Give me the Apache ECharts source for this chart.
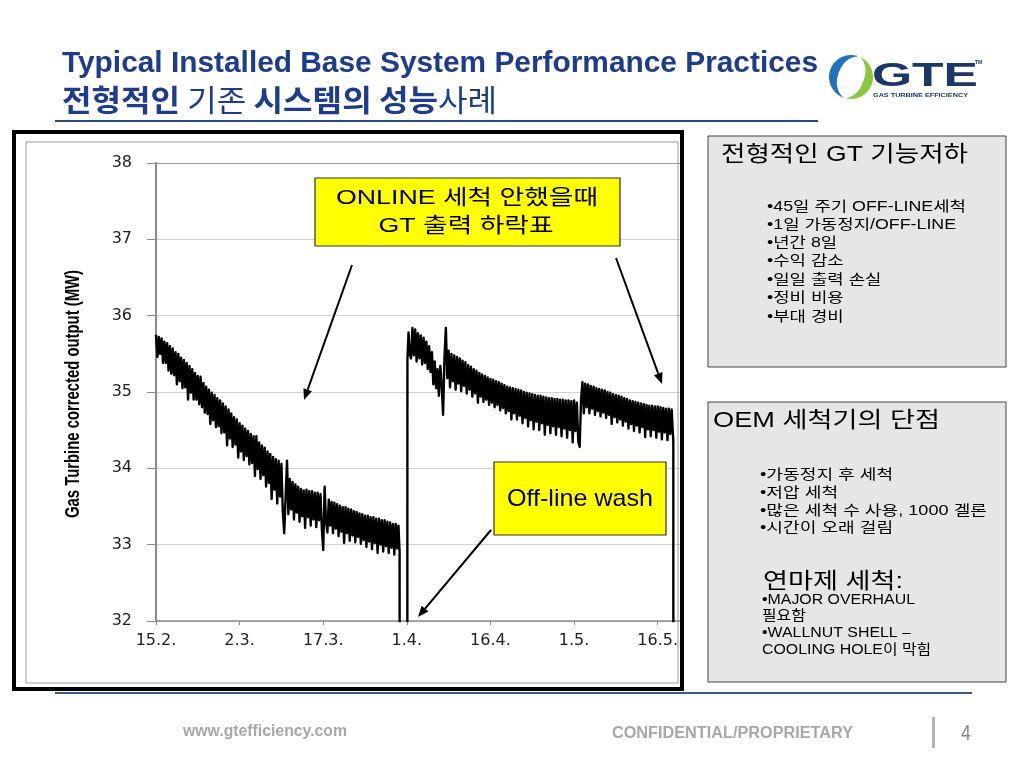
<!DOCTYPE html>
<html><head><meta charset="utf-8">
<script src="https://cdn.jsdelivr.net/npm/echarts@6/dist/echarts.min.js"></script>
<style>html,body{margin:0;padding:0;background:#fff}#c{width:1024px;height:768px}</style>
</head><body><div id="c"></div>
<script>
// ---------- data ----------
const xTickDays = [0, 15, 30, 45, 60, 75, 90];            // days after 15 Feb
const xTickLabels = ['15.2.', '2.3.', '17.3.', '1.4.', '16.4.', '1.5.', '16.5.'];
const yTicks = [32, 33, 34, 35, 36, 37, 38];
const yAxisTitle = 'Gas Turbine corrected output (MW)';

// [day, MW]  period before the off-line wash (online output decline)
const beforeWash = [
 [0,35.75],[0.25,35.46],[0.5,35.72],[0.75,35.50],[1,35.70],[1.25,35.38],[1.5,35.66],[1.75,35.38],
 [2,35.64],[2.25,35.28],[2.5,35.60],[2.75,35.24],[3,35.57],[3.25,35.22],[3.5,35.52],[3.75,35.10],
 [4,35.50],[4.25,35.14],[4.5,35.45],[4.75,35.05],[5,35.42],[5.25,35.06],[5.5,35.38],[5.75,34.90],
 [6,35.34],[6.25,34.99],[6.5,35.30],[6.75,34.90],[7,35.25],[7.25,34.90],[7.5,35.21],[7.75,34.84],
 [8,35.20],[8.25,34.80],[8.5,35.12],[8.75,34.73],[9,35.07],[9.25,34.71],[9.5,35.03],[9.75,34.58],
 [10,34.99],[10.25,34.63],[10.5,34.96],[10.75,34.54],[11,34.92],[11.25,34.55],[11.5,34.89],[11.75,34.46],
 [12,34.85],[12.25,34.47],[12.5,34.81],[12.75,34.30],[13,34.77],[13.25,34.39],[13.5,34.72],[13.75,34.28],
 [14,34.67],[14.25,34.31],[14.5,34.64],[14.75,34.14],[15,34.59],[15.25,34.22],[15.5,34.56],[15.75,34.11],
 [16,34.52],[16.25,34.16],[16.5,34.49],[16.75,34.05],[17,34.45],[17.25,34.07],[17.5,34.42],[17.75,33.90],
 [18,34.42],[18.25,33.99],[18.5,34.34],[18.75,33.86],[19,34.30],[19.25,33.91],[19.5,34.27],[19.75,33.76],
 [20,34.22],[20.25,33.81],[20.5,34.19],[20.75,33.60],[21,34.15],[21.25,33.72],[21.5,34.12],[21.75,33.54],
 [22,34.10],[22.25,33.63],[22.5,34.06],[22.75,33.43],[23,33.15],[23.25,33.62],[23.5,34.10],[23.75,33.40],
 [24,33.86],[24.25,33.46],[24.5,33.82],[24.75,33.33],[25,33.79],[25.25,33.42],[25.5,33.76],[25.75,33.30],
 [26,33.73],[26.25,33.37],[26.5,33.71],[26.75,33.22],[27,33.72],[27.25,33.36],[27.5,33.70],[27.75,33.25],
 [28,33.70],[28.25,33.33],[28.5,33.68],[28.75,33.23],[29,33.68],[29.25,33.32],[29.5,33.66],[29.75,33.21],
 [30,32.93],[30.25,33.76],[30.5,33.30],[30.75,33.16],[31,33.59],[31.25,33.25],[31.5,33.56],[31.75,33.15],
 [32,33.55],[32.25,33.21],[32.5,33.53],[32.75,33.11],[33,33.51],[33.25,33.17],[33.5,33.49],[33.75,33.02],
 [34,33.49],[34.25,33.15],[34.5,33.47],[34.75,33.05],[35,33.46],[35.25,33.12],[35.5,33.44],[35.75,33.03],
 [36,33.43],[36.25,33.10],[36.5,33.41],[36.75,33.01],[37,33.40],[37.25,33.06],[37.5,33.38],[37.75,32.97],
 [38,33.38],[38.25,33.04],[38.5,33.36],[38.75,32.94],[39,33.36],[39.25,33.02],[39.5,33.34],[39.75,32.89],
 [40,33.34],[40.25,33.00],[40.5,33.32],[40.75,32.91],[41,33.32],[41.25,32.98],[41.5,33.30],[41.75,32.89],
 [42,33.29],[42.25,32.96],[42.5,33.27],[42.75,32.87],[43,33.27],[43.25,32.95],[43.5,33.25],[43.7,32.90]
];
// unit offline for the wash (output 0, below the axis)
const washShutdown = [[43.8,0],[45.0,0]];
// [day, MW]  period after the off-line wash
const afterWash = [
 [45.1,35.42],[45.3,35.78],[45.5,35.50],[45.75,35.44],[46,35.84],[46.25,35.48],[46.5,35.82],[46.75,35.40],
 [47,35.77],[47.25,35.44],[47.5,35.74],[47.75,35.36],[48,35.71],[48.25,35.38],[48.5,35.66],[48.75,35.30],
 [49,35.60],[49.25,35.26],[49.5,35.52],[49.75,35.10],[50,35.40],[50.25,35.05],[50.5,35.30],[50.75,34.95],
 [51,35.34],[51.25,35.10],[51.5,34.70],[51.75,35.45],[52,35.84],[52.25,35.18],[52.5,35.54],[52.75,35.06],
 [53,35.50],[53.25,35.14],[53.5,35.48],[53.75,35.03],[54,35.46],[54.25,35.11],[54.5,35.44],[54.75,35.01],
 [55,35.41],[55.25,35.08],[55.5,35.39],[55.75,34.98],[56,35.35],[56.25,35.03],[56.5,35.33],[56.75,34.94],
 [57,35.30],[57.25,34.98],[57.5,35.28],[57.75,34.86],[58,35.25],[58.25,34.94],[58.5,35.23],[58.75,34.87],
 [59,35.21],[59.25,34.90],[59.5,35.19],[59.75,34.83],[60,35.17],[60.25,34.86],[60.5,35.16],[60.75,34.80],
 [61,35.14],[61.25,34.83],[61.5,35.13],[61.75,34.76],[62,35.11],[62.25,34.79],[62.5,35.09],[62.75,34.72],
 [63,35.07],[63.25,34.75],[63.5,35.06],[63.75,34.64],[64,35.05],[64.25,34.72],[64.5,35.04],[64.75,34.64],
 [65,35.03],[65.25,34.69],[65.5,35.02],[65.75,34.59],[66,35.00],[66.25,34.66],[66.5,34.99],[66.75,34.55],
 [67,34.98],[67.25,34.63],[67.5,34.97],[67.75,34.51],[68,34.96],[68.25,34.61],[68.5,34.95],[68.75,34.50],
 [69,34.95],[69.25,34.59],[69.5,34.94],[69.75,34.44],[70,34.93],[70.25,34.57],[70.5,34.92],[70.75,34.46],
 [71,34.92],[71.25,34.55],[71.5,34.91],[71.75,34.44],[72,34.91],[72.25,34.54],[72.5,34.90],[72.75,34.42],
 [73,34.90],[73.25,34.52],[73.5,34.89],[73.75,34.40],[74,34.89],[74.25,34.50],[74.5,34.88],[74.75,34.34],
 [75,34.89],[75.25,34.49],[75.5,34.86],[75.75,34.35],[76,34.28],[76.25,34.90],[76.5,35.13],[76.75,34.72],
 [77,35.11],[77.25,34.80],[77.5,35.10],[77.75,34.72],[78,35.08],[78.25,34.78],[78.5,35.07],[78.75,34.70],
 [79,35.05],[79.25,34.75],[79.5,35.04],[79.75,34.68],[80,35.03],[80.25,34.73],[80.5,35.02],[80.75,34.66],
 [81,35.00],[81.25,34.70],[81.5,34.99],[81.75,34.58],[82,34.97],[82.25,34.67],[82.5,34.96],[82.75,34.60],
 [83,34.95],[83.25,34.64],[83.5,34.94],[83.75,34.56],[84,34.92],[84.25,34.61],[84.5,34.91],[84.75,34.52],
 [85,34.89],[85.25,34.58],[85.5,34.88],[85.75,34.49],[86,34.87],[86.25,34.56],[86.5,34.86],[86.75,34.47],
 [87,34.85],[87.25,34.54],[87.5,34.84],[87.75,34.41],[88,34.83],[88.25,34.51],[88.5,34.82],[88.75,34.42],
 [89,34.82],[89.25,34.50],[89.5,34.81],[89.75,34.40],[90,34.81],[90.25,34.48],[90.5,34.80],[90.75,34.38],
 [91,34.79],[91.25,34.47],[91.5,34.78],[91.75,34.37],[92,34.78],[92.25,34.45],[92.5,34.77],[92.8,34.35]
];
const endShutdown = [[92.9,0]];

// ---------- text helpers ----------
const mctx = document.createElement('canvas').getContext('2d');
function tw(text, font){ mctx.font = font; return mctx.measureText(text).width; }
function fit(text, font, w){ return w / tw(text, font); }
function txt(text, x, y, font, fill, sx, align, extra){
  return Object.assign({type:'text', x:x, y:y, scaleX:sx||1, z:50, silent:true,
    style:{text:text, x:0, y:0, font:font, fill:fill||'#000', textAlign:align||'left',
      textVerticalAlign:'middle', verticalAlign:'middle'}}, extra||{});
}
function arrow(x1,y1,x2,y2){
  const a = Math.atan2(y2-y1, x2-x1), L = 11, W = 4.5;
  const bx = x2 - L*Math.cos(a), by = y2 - L*Math.sin(a);
  return [
    {type:'line', z:40, silent:true, shape:{x1:x1,y1:y1,x2:bx,y2:by}, style:{stroke:'#000', lineWidth:2}},
    {type:'polygon', z:40, silent:true, shape:{points:[[x2,y2],[bx - W*Math.sin(a), by + W*Math.cos(a)],[bx + W*Math.sin(a), by - W*Math.cos(a)]]}, style:{fill:'#000'}}
  ];
}
function crescent(cx, cy, r, a0, a1, tmax, color){
  const pts = [], n = 40;
  for (let i=0;i<=n;i++){ const t=a0+(a1-a0)*i/n, rad=t*Math.PI/180; pts.push([cx+r*Math.cos(rad), cy-r*Math.sin(rad)]); }
  for (let i=n;i>=0;i--){ const t=a0+(a1-a0)*i/n, rad=t*Math.PI/180; const rr = r - tmax*Math.sin(Math.PI*i/n);
    pts.push([cx+rr*Math.cos(rad), cy-rr*Math.sin(rad)]); }
  return {type:'polygon', z:30, silent:true, shape:{points:pts}, style:{fill:color}};
}

const F = '"Liberation Sans", Arial, "Noto Sans CJK KR", sans-serif';
const KF = '"Noto Sans CJK KR", "Liberation Sans", sans-serif';
const NAVY = '#1d3c8f';

const g = [];
// ---- title ----
const t1 = 'Typical Installed Base System Performance Practices';
const t1f = 'bold 30px ' + F;
g.push(txt(t1, 62, 64, t1f, NAVY, fit(t1, t1f, 756)));
const t2parts = [['전형적인 ', 'bold'], ['기존 ', 'normal'], ['시스템의 성능', 'bold'], ['사례', 'normal']];
let t2w = 0; t2parts.forEach(p => { p.f = p[1] + ' 30px ' + KF; p.w = tw(p[0], p.f); t2w += p.w; });
const t2s = 435 / t2w; let t2x = 62;
t2parts.forEach(p => { g.push(txt(p[0], t2x, 100, p.f, NAVY, t2s)); t2x += p.w * t2s; });
g.push({type:'line', z:30, silent:true, shape:{x1:55,y1:121,x2:818,y2:121}, style:{stroke:'#2b4a86', lineWidth:2}});

// ---- logo ----
g.push(crescent(851, 77, 22, 70, 250, 9, '#1f73ba'));
g.push(crescent(851, 77, 22, 255, 425, 9, '#8cc63f'));
const gteF = 'bold 34px "Liberation Sans", Arial, sans-serif';
g.push(txt('GTE', 872, 77, gteF, '#1b3668', fit('GTE', gteF, 106)));
g.push(txt('TM', 975, 63, 'bold 5px "Liberation Sans"', '#1b3668', 1));
const subF = 'bold 6px "Liberation Sans", Arial, sans-serif';
g.push(txt('GAS TURBINE EFFICIENCY', 873, 95, subF, '#1b3668', fit('GAS TURBINE EFFICIENCY', subF, 95)));

// ---- chart frame ----
g.push({type:'rect', z:60, silent:true, shape:{x:14,y:132,width:668,height:557}, style:{fill:'none', stroke:'#000', lineWidth:4}});
g.push({type:'rect', z:59, silent:true, shape:{x:26,y:142,width:652,height:541}, style:{fill:'none', stroke:'#9a9a9a', lineWidth:1}});
// y axis title
const yaF = 'bold 21px "Liberation Sans", Arial, sans-serif';
g.push(txt(yAxisTitle, 73, 394, yaF, '#000', fit(yAxisTitle, yaF, 248), 'center', {rotation: Math.PI/2}));

// ---- annotation boxes ----
g.push({type:'rect', z:35, silent:true, shape:{x:315,y:178,width:305,height:68}, style:{fill:'#ffff00', stroke:'#333', lineWidth:1.2}});
const a1 = 'ONLINE 세척 안했을때', a2 = 'GT 출력 하락표', aF = '21px ' + F;
const as = fit(a1, aF, 262);
g.push(txt(a1, 467, 198, aF, '#000', as, 'center'));
g.push(txt(a2, 466, 226, aF, '#000', as, 'center'));
g.push({type:'rect', z:35, silent:true, shape:{x:494,y:462,width:172,height:73}, style:{fill:'#ffff00', stroke:'#333', lineWidth:1.2}});
const owF = '24px ' + F;
g.push(txt('Off-line wash', 580, 499, owF, '#000', fit('Off-line wash', owF, 146), 'center'));
arrow(352, 265, 304, 400).forEach(e => g.push(e));
arrow(616, 258, 662, 384).forEach(e => g.push(e));
arrow(491, 530, 418, 617).forEach(e => g.push(e));

// ---- right panels ----
g.push({type:'rect', z:30, silent:true, shape:{x:708,y:136,width:298,height:231}, style:{fill:'#e6e6e6', stroke:'#444', lineWidth:1}});
const p1t = '전형적인 GT 기능저하', p1tF = '22px ' + F;
g.push(txt(p1t, 721, 155, p1tF, '#000', fit(p1t, p1tF, 247)));
const p1lines = ['•45일 주기 OFF-LINE세척', '•1일 가동정지/OFF-LINE', '•년간 8일', '•수익 감소', '•일일 출력 손실', '•정비 비용', '•부대 경비'];
const p1Y = [207, 225, 243, 261, 280, 298, 317];
const bF = '14px ' + F; const p1s = fit(p1lines[0], bF, 199);
p1lines.forEach((s, i) => g.push(txt(s, 767, p1Y[i], bF, '#000', p1s)));

g.push({type:'rect', z:30, silent:true, shape:{x:708,y:402,width:298,height:280}, style:{fill:'#e6e6e6', stroke:'#444', lineWidth:1}});
const p2t = 'OEM 세척기의 단점';
g.push(txt(p2t, 713, 421, p1tF, '#000', fit(p2t, p1tF, 227)));
const p2lines = ['•가동정지 후 세척', '•저압 세척', '•많은 세척 수 사용, 1000 겔론', '•시간이 오래 걸림'];
const p2Y = [475, 493, 511, 528];
const p2s = fit(p2lines[2], bF, 227);
p2lines.forEach((s, i) => g.push(txt(s, 760, p2Y[i], bF, '#000', p2s)));
const p3t = '연마제 세척:';
g.push(txt(p3t, 763, 582, p1tF, '#000', fit(p3t, p1tF, 140)));
const p3lines = ['•MAJOR OVERHAUL', '필요함', '•WALLNUT SHELL –', 'COOLING HOLE이 막힘'];
const p3Y = [600, 616, 633, 650];
const p3s = fit(p3lines[0], bF, 153);
p3lines.forEach((s, i) => g.push(txt(s, 762, p3Y[i], bF, '#000', p3s)));

// ---- footer ----
g.push({type:'line', z:30, silent:true, shape:{x1:55,y1:693,x2:972,y2:693}, style:{stroke:'#3a5a86', lineWidth:2}});
const fF = 'bold 16px "Liberation Sans", Arial, sans-serif';
g.push(txt('www.gtefficiency.com', 183, 732, fF, '#a8a8a8', fit('www.gtefficiency.com', fF, 164)));
g.push(txt('CONFIDENTIAL/PROPRIETARY', 612, 734, fF, '#a8a8a8', fit('CONFIDENTIAL/PROPRIETARY', fF, 241)));
g.push({type:'rect', z:30, silent:true, shape:{x:932,y:717,width:3,height:31}, style:{fill:'#b5b5b5'}});
g.push(txt('4', 966, 734, '22px "Liberation Sans", Arial, sans-serif', '#8a8a8a', 0.8, 'center'));

// ---------- chart ----------
const chart = echarts.init(document.getElementById('c'), null, {renderer:'canvas'});
const splitColors = yTicks.map((v, i) => i === yTicks.length - 1 ? '#9a9a9a' : '#d2d2d2');
chart.setOption({
  animation: false,
  backgroundColor: '#fff',
  grid: {left:156, right:344, top:163, bottom:147, containLabel:false},
  xAxis: {
    type:'value', min:0, max:94, interval:15,
    axisLine:{show:true, lineStyle:{color:'#8c8c8c', width:1.5}},
    axisTick:{show:true, length:4, customValues:xTickDays, lineStyle:{color:'#8c8c8c'}},
    axisLabel:{customValues:xTickDays, formatter: v => { const i = xTickDays.indexOf(v); return i >= 0 ? xTickLabels[i] : ''; },
      fontFamily:'DejaVu Sans', fontSize:16, color:'#222', margin:12, showMaxLabel:true},
    splitLine:{show:false}
  },
  yAxis: {
    type:'value', min:yTicks[0], max:yTicks[yTicks.length-1], interval:1,
    axisLine:{show:true, lineStyle:{color:'#8c8c8c', width:2}},
    axisTick:{show:true, length:9, lineStyle:{color:'#8c8c8c'}},
    axisLabel:{fontFamily:'DejaVu Sans', fontSize:16, color:'#222', margin:24},
    splitLine:{show:true, lineStyle:{color:splitColors, width:1}}
  },
  series: [{
    type:'line', name:'GT output',
    data: beforeWash.concat(washShutdown, afterWash, endShutdown),
    showSymbol:false, symbol:'none', clip:true, silent:true, z:3,
    lineStyle:{color:'#000', width:2.4, join:'round'}
  }],
  graphic: g
});
</script></body></html>
